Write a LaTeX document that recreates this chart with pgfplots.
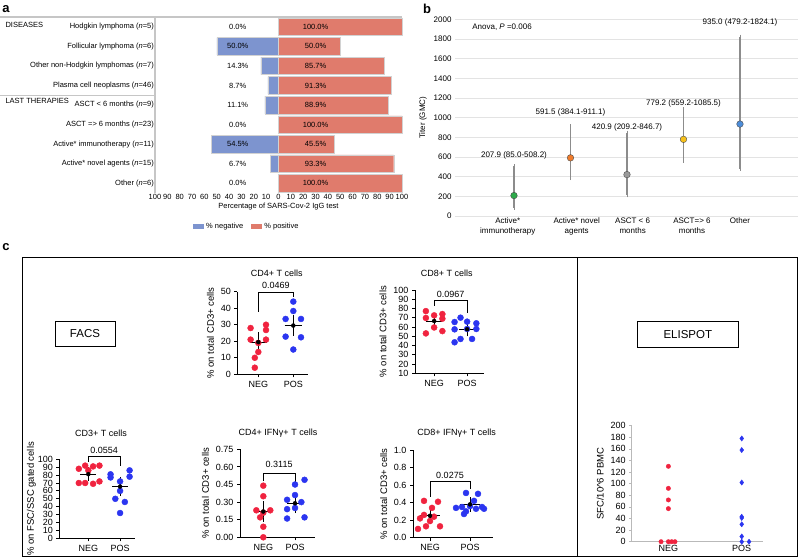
\documentclass[border=0pt]{standalone}
\usepackage{fontspec}
\setmainfont{Liberation Sans}
\usepackage{pgfplots}
\pgfplotsset{compat=1.18}
\definecolor{negblue}{HTML}{7D94CF}
\definecolor{posred}{HTML}{E07B6C}
\definecolor{dotred}{HTML}{F0233F}
\definecolor{dotblue}{HTML}{2B35F0}
\definecolor{ptgreen}{HTML}{2DAA4A}
\definecolor{ptorange}{HTML}{F07C2C}
\definecolor{ptgray}{HTML}{9A9A9A}
\definecolor{ptyellow}{HTML}{F6C01A}
\definecolor{ptblue}{HTML}{4C8DDA}
\definecolor{errgray}{HTML}{8C8C8C}
\newcommand{\fa}{\fontsize{7.5}{9}\selectfont}
\newcommand{\fb}{\fontsize{8}{10}\selectfont}
\newcommand{\fc}{\fontsize{9}{10.5}\selectfont}
\newcommand{\fcl}{\fontsize{9.5}{11}\selectfont}
\pgfplotsset{
  dotplot/.style={
    scale only axis, anchor=south west, clip=false,
    axis x line*=bottom, axis y line*=left,
    axis line style={line width=0.9pt},
    tick style={line width=0.9pt, black},
    tick align=outside, major tick length=3pt,
    xtick={0,1}, xticklabels={NEG,POS},
    tick label style={font=\fc},
    /pgf/number format/assume math mode=true,
    /pgf/number format/1000 sep={},
    ylabel style={font=\fcl},
  },
  negdot/.style={only marks, mark=*, mark size=3pt, color=dotred},
  posdot/.style={only marks, mark=*, mark size=3pt, color=dotblue},
  meanline/.style={black, line width=1pt, mark=none},
  semline/.style={only marks, mark=none, error bars/.cd, y dir=both, y explicit,
    error bar style={black, line width=1pt},
    error mark options={black, line width=1pt, mark size=4.5pt}},
  bracket/.style={black, line width=0.8pt, mark=none},
  textonly/.style={only marks, mark=text, text mark={},
    point meta=explicit symbolic, nodes near coords, nodes near coords align={center}},
}
\begin{document}
\begin{tikzpicture}
\useasboundingbox (0pt,0pt) rectangle (799pt,559pt);
% ---------------- panel labels
\node[font=\bfseries\fontsize{13}{13}\selectfont, anchor=center] at (6pt,550pt) {a};
\node[font=\bfseries\fontsize{13}{13}\selectfont, anchor=center] at (427pt,550pt) {b};
\node[font=\bfseries\fontsize{13}{13}\selectfont, anchor=center] at (6pt,312pt) {c};

% ---------------- panel a
\begin{axis}[
  at={(155pt,366pt)}, anchor=south west, scale only axis,
  width=247pt, height=176pt,
  xmin=-100, xmax=100, ymin=0.5, ymax=9.5, y dir=reverse,
  axis line style={draw=none}, tick style={draw=none}, major tick length=0pt,
  xtick={-100,-90,...,100},
  xticklabels={100,90,80,70,60,50,40,30,20,10,0,10,20,30,40,50,60,70,80,90,100},
  ytick={1,...,9},
  yticklabels={Hodgkin lymphoma (\textit{n}=5),Follicular lymphoma (\textit{n}=6),Other non-Hodgkin lymphomas (\textit{n}=7),Plasma cell neoplasms (\textit{n}=46),ASCT < 6 months (\textit{n}=9),ASCT => 6 months (\textit{n}=23),Active* immunotherapy (\textit{n}=11),Active* novel agents (\textit{n}=15),Other (\textit{n}=6)},
  tick label style={font=\fa},
  yticklabel style={inner sep=1pt},
  xticklabel style={inner sep=1.5pt},
  /pgf/number format/assume math mode=true,
  xlabel={Percentage of SARS-Cov-2 IgG test},
  xlabel style={font=\fa, inner sep=1pt},
  clip=false,
  legend style={at={(0.372,-0.19)}, anchor=center, draw=none, font=\fa,
    legend columns=2, /tikz/every even column/.append style={column sep=6pt},
    inner sep=0pt},
  legend image code/.code={\fill[#1,draw=none] (0pt,-2.5pt) rectangle (11pt,2.5pt);},
]
\addplot[xbar, bar width=0.9, bar shift=0pt, fill=negblue, draw=gray!35]
  coordinates {(-50,2) (-14.3,3) (-8.7,4) (-11.1,5) (-54.5,7) (-6.7,8)};
\addlegendentry{\% negative}
\addplot[xbar, bar width=0.9, bar shift=0pt, fill=posred, draw=gray!35]
  coordinates {(100,1) (50,2) (85.7,3) (91.3,4) (88.9,5) (100,6) (45.5,7) (93.3,8) (100,9)};
\addlegendentry{\% positive}
\addplot[forget plot, textonly,
  every node near coord/.append style={font=\fa, anchor=center}]
  coordinates {(-33,1)[0.0\%] (-33,2)[50.0\%] (-33,3)[14.3\%] (-33,4)[8.7\%] (-33,5)[11.1\%]
   (-33,6)[0.0\%] (-33,7)[54.5\%] (-33,8)[6.7\%] (-33,9)[0.0\%]
   (30,1)[100.0\%] (30,2)[50.0\%] (30,3)[85.7\%] (30,4)[91.3\%] (30,5)[88.9\%]
   (30,6)[100.0\%] (30,7)[45.5\%] (30,8)[93.3\%] (30,9)[100.0\%]};
\draw[gray!45, line width=1.3pt] (axis cs:-100,0.5) -- (axis cs:-100,9.5);
\draw[gray!45, line width=1.3pt] (axis cs:100,0.5) -- ([xshift=-155pt]axis cs:-100,0.5);
\draw[gray!45, line width=1.3pt] (axis cs:-100,4.5) -- ([xshift=-155pt]axis cs:-100,4.5);
\node[font=\fa, anchor=west] at ([xshift=-153pt]axis cs:-100,0.9) {DISEASES};
\node[font=\fa, anchor=west] at ([xshift=-153pt]axis cs:-100,4.8) {LAST THERAPIES};
\end{axis}

% ---------------- panel b
\begin{axis}[
  at={(455pt,343pt)}, anchor=south west, scale only axis,
  width=343pt, height=196.7pt,
  xmin=-1.044, xmax=5.027, ymin=0, ymax=2000,
  ytick={0,200,...,2000}, ymajorgrids, grid style={gray!22, line width=0.7pt},
  axis line style={draw=none}, tick style={draw=none}, major tick length=0pt,
  xtick={-0.11,1.11,2.1,3.15,4.0},
  xticklabels={Active*\\immunotherapy, Active* novel\\agents, ASCT < 6\\months, ASCT=> 6\\months, Other},
  xticklabel style={align=center, inner sep=2pt},
  tick label style={font=\fb},
  /pgf/number format/assume math mode=true,
  /pgf/number format/1000 sep={},
  ylabel={Titer (GMC)}, ylabel style={font=\fb},
  clip=false,
]
\addplot[color=errgray, only marks, mark=none, error bars/.cd, y dir=both, y explicit,
  error bar style={color=errgray, line width=1.1pt},
  error mark options={color=errgray, line width=0.9pt, mark size=2pt}]
  coordinates {(0,207.9) += (0,300.3) -= (0,122.9)
               (1,591.5) += (0,319.6) -= (0,207.4)
               (2,420.9) += (0,425.8) -= (0,211.7)
               (3,779.2) += (0,306.3) -= (0,220.0)
               (4,935.0) += (0,889.1) -= (0,455.8)};
\addplot[scatter, only marks, scatter src=explicit symbolic, mark=*, mark size=3.3pt,
  scatter/classes={
    g={mark=*, fill=ptgreen, draw=gray!60!black},
    o={mark=*, fill=ptorange, draw=gray!60!black},
    k={mark=*, fill=ptgray, draw=gray!60!black},
    y={mark=*, fill=ptyellow, draw=gray!60!black},
    b={mark=*, fill=ptblue, draw=gray!60!black}}]
  coordinates {(0,207.9)[g] (1,591.5)[o] (2,420.9)[k] (3,779.2)[y] (4,935.0)[b]};
\addplot[textonly, every node near coord/.append style={font=\fb, anchor=center}]
  coordinates {(0,613)[207.9 (85.0-508.2)] (1,1050)[591.5 (384.1-911.1)]
   (2,898)[420.9 (209.2-846.7)] (3,1146)[779.2 (559.2-1085.5)] (4,1965)[935.0 (479.2-1824.1)]};
\node[font=\fb, anchor=west] at (axis cs:-0.8,1920) {Anova, \textit{P} =0.006};
\end{axis}

% ---------------- panel c frame
\draw[line width=0.8pt] (22.7pt,2.3pt) rectangle (797pt,302pt);
\draw[line width=0.8pt] (577pt,2.3pt) -- (577pt,302pt);
\node[draw, line width=0.6pt, minimum width=60pt, minimum height=24.3pt, inner sep=0pt,
  font=\fontsize{11.5}{12}\selectfont] at (85pt,225.2pt) {FACS};
\node[draw, line width=0.6pt, minimum width=101pt, minimum height=25.6pt, inner sep=0pt,
  font=\fontsize{11.5}{12}\selectfont] at (687.8pt,224.5pt) {ELISPOT};

% titles
\node[font=\fc] at (276.7pt,285.7pt) {CD4+ T cells};
\node[font=\fc] at (446.7pt,285.7pt) {CD8+ T cells};
\node[font=\fc] at (101pt,126pt) {CD3+ T cells};
\node[font=\fc] at (278pt,126pt) {CD4+ IFNγ+ T cells};
\node[font=\fc] at (456.7pt,126pt) {CD8+ IFNγ+ T cells};

% CD4+ T cells
\begin{axis}[dotplot, at={(237.3pt,184.7pt)}, width=70.7pt, height=82.6pt,
  xmin=-0.6, xmax=1.42, ymin=0, ymax=50, ytick={0,10,...,50},
  ylabel={\% on total CD3+ cells}]
\addplot[negdot] coordinates {(-0.22,28) (0.22,30) (0.22,26.8) (-0.22,21) (0.22,21) (0,19) (0,13.5) (-0.1,10) (-0.1,4)};
\addplot[posdot] coordinates {(1,44) (1,38.3) (0.78,33.5) (1.22,33.5) (0.78,22.8) (1.22,22.4) (1,15)};
\addplot[meanline] coordinates {(-0.25,19.5) (0.25,19.5)};
\addplot[semline] coordinates {(0,19.5) +- (0,3.2)};
\addplot[meanline] coordinates {(0.75,29.5) (1.25,29.5)};
\addplot[semline] coordinates {(1,29.5) +- (0,3.4)};
\addplot[bracket] coordinates {(0,37.9) (0,49.6) (1,49.6) (1,46.6)};
\node[font=\fc] at (axis cs:0.5,54) {0.0469};
\end{axis}

% CD8+ T cells
\begin{axis}[dotplot, at={(415pt,185.7pt)}, width=68.6pt, height=83.3pt,
  xmin=-0.58, xmax=1.5, ymin=10, ymax=100, ytick={10,20,...,100},
  ylabel={\% on total CD3+ cells}]
\addplot[negdot] coordinates {(-0.25,77.2) (0.25,74) (0,72.6) (-0.25,69.8) (0.25,69) (0,59.5) (-0.25,53.1) (0.25,55.6)};
\addplot[posdot] coordinates {(0.8,70.1) (0.62,65.4) (1,65.8) (1.28,64) (0.62,57.5) (1,57.9) (1.28,57.9) (0.8,47.1) (0.62,43.5) (1.15,47.1)};
\addplot[meanline] coordinates {(-0.25,66.5) (0.25,66.5)};
\addplot[semline] coordinates {(0,66.5) +- (0,3.2)};
\addplot[meanline] coordinates {(0.75,57.6) (1.25,57.6)};
\addplot[semline] coordinates {(1,57.6) +- (0,2.8)};
\addplot[bracket] coordinates {(0,83) (0,88.5) (1,88.5) (1,74.8)};
\node[font=\fc] at (axis cs:0.5,95) {0.0967};
\end{axis}

% CD3+ T cells
\begin{axis}[dotplot, at={(59.3pt,20.7pt)}, width=75.7pt, height=79pt,
  xmin=-0.915, xmax=1.47, ymin=0, ymax=100, ytick={0,10,...,100},
  ylabel={\% on FSC/SSC gated cells}, ylabel shift=-5pt]
\addplot[negdot] coordinates {(-0.3,88) (-0.1,92) (0.15,91) (0.35,92) (0,86) (-0.3,70) (-0.1,70) (0.15,69) (0.35,72)};
\addplot[posdot] coordinates {(0.7,81) (0.7,77) (1.3,86) (1.3,78) (1,72) (1,60) (0.85,50) (1.15,46) (1,32)};
\addplot[meanline] coordinates {(-0.25,81.2) (0.25,81.2)};
\addplot[semline] coordinates {(0,81.2) +- (0,3.4)};
\addplot[meanline] coordinates {(0.75,65.5) (1.25,65.5)};
\addplot[semline] coordinates {(1,65.5) +- (0,6.5)};
\addplot[bracket] coordinates {(0,96.7) (0,103.3) (1,103.3) (1,91.7)};
\node[font=\fc] at (axis cs:0.5,111.5) {0.0554};
\end{axis}

% CD4+ IFNg+ T cells
\begin{axis}[dotplot, at={(240pt,21.7pt)}, width=75pt, height=88pt,
  xmin=-0.735, xmax=1.63, ymin=0, ymax=0.75, ytick={0,0.15,...,0.76},
  yticklabel style={/pgf/number format/.cd, fixed, fixed zerofill, precision=2},
  ylabel={\% on total CD3+ cells}]
\addplot[negdot] coordinates {(0,0.44) (0,0.35) (-0.22,0.23) (0.22,0.23) (0,0.21) (-0.1,0.17) (0,0.09) (0,0.0)};
\addplot[posdot] coordinates {(1.3,0.49) (1,0.45) (1,0.36) (0.75,0.32) (1.2,0.30) (1,0.25) (0.75,0.24) (0.75,0.16) (1.3,0.17)};
\addplot[meanline] coordinates {(-0.25,0.22) (0.25,0.22)};
\addplot[semline] coordinates {(0,0.22) +- (0,0.05)};
\addplot[meanline] coordinates {(0.75,0.29) (1.25,0.29)};
\addplot[semline] coordinates {(1,0.29) +- (0,0.045)};
\addplot[bracket] coordinates {(0,0.48) (0,0.545) (1,0.545) (1,0.47)};
\node[font=\fc] at (axis cs:0.5,0.62) {0.3115};
\end{axis}

% CD8+ IFNg+ T cells
\begin{axis}[dotplot, at={(413pt,21.3pt)}, width=80pt, height=87.7pt,
  xmin=-0.425, xmax=1.575, ymin=0, ymax=1.0, ytick={0,0.2,...,1.01},
  yticklabel style={/pgf/number format/.cd, fixed, fixed zerofill, precision=1},
  ylabel={\% on total CD3+ cells}]
\addplot[negdot] coordinates {(-0.15,0.42) (0.2,0.41) (0.05,0.34) (-0.15,0.26) (0.1,0.24) (-0.25,0.22) (0,0.19) (-0.1,0.13) (0.25,0.13) (-0.3,0.10)};
\addplot[posdot] coordinates {(0.9,0.51) (1.2,0.50) (1.1,0.42) (0.8,0.35) (1,0.36) (1.3,0.35) (0.65,0.34) (1.15,0.33) (0.9,0.30) (1.35,0.33) (0.85,0.27)};
\addplot[meanline] coordinates {(-0.25,0.25) (0.25,0.25)};
\addplot[semline] coordinates {(0,0.25) +- (0,0.04)};
\addplot[meanline] coordinates {(0.75,0.38) (1.25,0.38)};
\addplot[semline] coordinates {(1,0.38) +- (0,0.03)};
\addplot[bracket] coordinates {(0,0.468) (0,0.64) (1,0.64) (1,0.56)};
\node[font=\fc] at (axis cs:0.5,0.715) {0.0275};
\end{axis}

% ELISPOT
\begin{axis}[scale only axis, anchor=south west, at={(631.7pt,17.3pt)},
  width=131pt, height=116pt, clip=false,
  xmin=-0.5, xmax=1.286, ymin=0, ymax=200, ytick={0,20,...,200},
  xtick={0,1}, xticklabels={NEG,POS},
  axis x line*=bottom, axis y line*=left,
  axis line style={gray!55, line width=0.8pt},
  x tick style={draw=none}, y tick style={gray!55, line width=0.8pt},
  tick align=outside, major tick length=2.5pt,
  xticklabel style={inner sep=1pt},
  tick label style={font=\fc},
  /pgf/number format/assume math mode=true,
  ylabel={SFC/10\textasciicircum 6 PBMC}, ylabel style={font=\fcl},
]
\addplot[only marks, mark=*, mark size=2.2pt, color=dotred]
  coordinates {(0,130) (0,92) (0,72) (0,57) (-0.1,0) (0,0) (0.045,0) (0.09,0)};
\addplot[only marks, mark=diamond*, mark size=2.6pt, color=dotblue]
  coordinates {(1,178) (1,158) (1,102) (1,43) (1,41) (1,30) (1,9) (1,0) (1.1,0)};
\end{axis}
\end{tikzpicture}
\end{document}
